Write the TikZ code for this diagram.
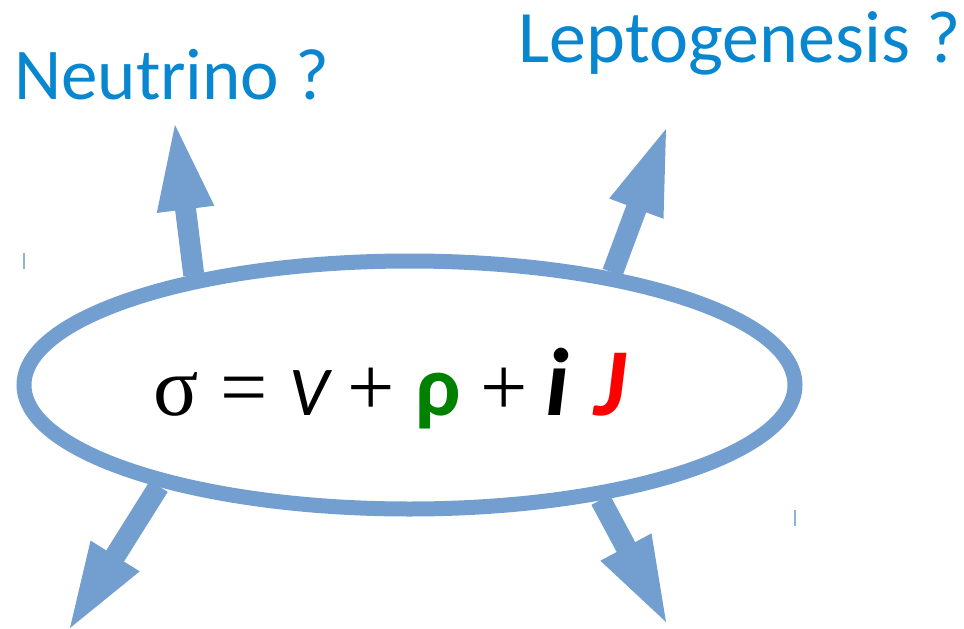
\documentclass[tikz,border=0pt]{standalone}
\usepackage{fontspec}
\setmainfont{Carlito}
\newfontfamily\griego{Liberation Serif}
\usetikzlibrary{calc,shapes.geometric}
\definecolor{azulflecha}{RGB}{114,159,207}
\definecolor{azultexto}{RGB}{8,134,208}
\definecolor{verdero}{RGB}{0,128,0}
\tikzset{
  flecha/.style={fill=azulflecha},
  pregunta/.style={text=azultexto,inner sep=0pt,anchor=base},
  pieza/.style={anchor=base,inner sep=0pt},
  serif/.style={pieza,font=\griego\fontsize{84}{88}\selectfont},
  negrita/.style={pieza,font=\bfseries\itshape\fontsize{96}{100}\selectfont},
  marca/.style={draw=azulflecha!80,line width=1.2pt}
}
% flecha gruesa desde #1 (borde de la elipse) hasta la punta #2
\newcommand\bloque[2]{%
  \coordinate (h) at ($(#2)!85pt!(#1)$);
  \fill[flecha] ($(#1)!10.5pt!90:(#2)$) -- ($(h)!10.5pt!90:(#2)$) -- ($(h)!29pt!90:(#2)$)
    -- (#2) -- ($(h)!29pt!-90:(#2)$) -- ($(h)!10.5pt!-90:(#2)$) -- ($(#1)!10.5pt!-90:(#2)$) -- cycle;
}
\begin{document}
\begin{tikzpicture}[x=1pt,y=-1pt]
    \useasboundingbox (0,0) rectangle (964,629);
    \node[draw=azulflecha,line width=15pt,ellipse,minimum width=771pt,minimum height=248pt,inner sep=0pt]
        (elipse) at (409.5,385) {};
    % puntas de las cuatro flechas
    \coordinate (p1) at (175,125);
    \coordinate (p2) at (666,129);
    \coordinate (p3) at (70,628);
    \coordinate (p4) at (666,622);
    \foreach \a/\p in {153.8/p1,29.7/p2,202.8/p3,329.1/p4} {
        \bloque{elipse.\a}{\p}
    }
    \node[pregunta,font=\fontsize{73}{78}\selectfont] (neutrino) at (172,99) {Neutrino ?};
    \node[pregunta,font=\fontsize{74}{79}\selectfont] (lepto) at (740,62) {Leptogenesis ?};
    % sigma = V + rho + i J
    \node[serif] (sigma) at (176.5,415) {σ};
    \node[serif] (igual) at (244,415) {=};
    \node[pieza,font=\itshape\fontsize{70}{74}\selectfont] (V) at (309,415) {V};
    \node[serif] (mas1) at (371.5,415) {+};
    \node[pieza,font=\bfseries\fontsize{86}{90}\selectfont,text=verdero] (rho) at (438,415) {ρ};
    \node[serif] (mas2) at (504,415) {+};
    \node[negrita] (i) at (557,415) {i};
    \node[negrita,text=red] (J) at (610,415) {J};
    % marcas sueltas
    \draw[marca] (24,253) -- (24,269);
    \draw[marca] (795,510) -- (795,526);
\end{tikzpicture}
\end{document}
